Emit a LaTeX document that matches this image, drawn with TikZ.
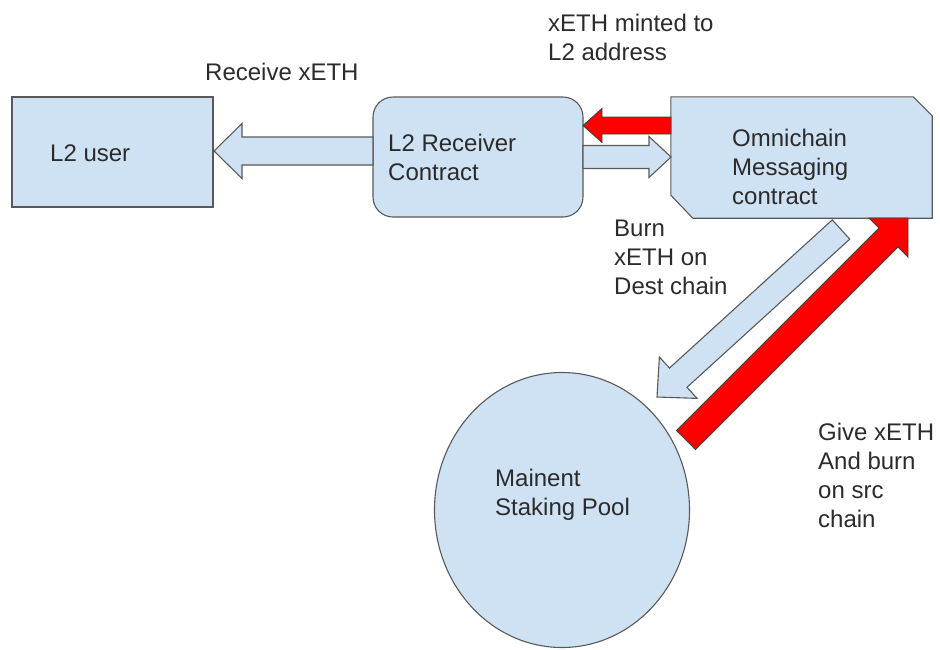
\documentclass[tikz,border=0pt]{standalone}
\usepackage{fontspec}
\setmainfont{Liberation Sans}
\usetikzlibrary{calc,shapes.geometric,backgrounds}

\definecolor{boxblue}{HTML}{CFE2F3}
\definecolor{edgegray}{HTML}{595959}
\definecolor{inkgray}{HTML}{2B2B2B}
\definecolor{flowred}{HTML}{FF0000}

\tikzset{
  boxstyle/.style={draw=edgegray, fill=boxblue, line width=1.1pt, inner sep=0pt},
  bluearrow/.style={draw=edgegray, fill=boxblue, line width=1.1pt, line join=miter},
  redarrow/.style={draw=black!75, fill=flowred, line width=0.9pt, line join=miter},
  label/.style={text=inkgray, align=left, anchor=west, inner sep=0pt,
                font=\fontsize{24}{29}\selectfont},
}

% Block arrow: #1 style, #2 tail, #3 tip, #4 half shaft width,
% #5 half head width, #6 head length
\newcommand\blockarrow[6]{%
  \coordinate (ba-h) at ($(#3)!#6!(#2)$);
  \path[#1] ($(#2)!#4!90:(#3)$) -- ($(ba-h)!#4!90:(#3)$) -- ($(ba-h)!#5!90:(#3)$)
    -- (#3) -- ($(ba-h)!#5!-90:(#3)$) -- ($(ba-h)!#4!-90:(#3)$)
    -- ($(#2)!#4!-90:(#3)$) -- cycle;
}

\begin{document}
\begin{tikzpicture}[x=1pt,y=-1pt]
  \useasboundingbox (0,0) rectangle (940,649);

  % boxes
  \node[boxstyle, minimum width=201pt, minimum height=110pt] (user) at (112.5,152) {};
  \node[boxstyle, rounded corners=20pt, minimum width=210pt, minimum height=120pt] (recv) at (478,157) {};
  \node[inner sep=0pt, minimum width=261pt, minimum height=121pt] (omni) at (801.5,157.5) {};
  \draw[boxstyle] (omni.north west) -- ([xshift=-19pt]omni.north east)
    -- ([yshift=-19pt]omni.north east) -- (omni.south east)
    -- ([xshift=22pt]omni.south west) -- ([yshift=23pt]omni.south west) -- cycle;
  \node[boxstyle, ellipse, minimum width=255pt, minimum height=275pt] (pool) at (562,510) {};

  % texts inside the shapes
  \node[label] (userlbl) at (50,153) {L2 user};
  \node[label] (recvlbl) at (388,157.5) {L2 Receiver\\Contract};
  \node[label] (omnilbl) at (732,166.5) {Omnichain\\Messaging\\contract};
  \node[label] (poollbl) at (495,494.5) {Mainent\\Staking Pool};

  % arrow end points
  \coordinate (a1t) at (373,151);   \coordinate (a1h) at (214,151);
  \coordinate (a2t) at (583,157);   \coordinate (a2h) at (671,157);
  \coordinate (a3t) at (671,125.5); \coordinate (a3h) at (583,125.5);
  \coordinate (a4t) at (841,229.5); \coordinate (a4h) at (657,397);
  \coordinate (a5t) at (686,440);   \coordinate (a5h) at (908,218);

  % block arrows
  \blockarrow{bluearrow}{a1t}{a1h}{14pt}{27.5pt}{28pt}
  \blockarrow{bluearrow}{a2t}{a2h}{11.5pt}{20.5pt}{22pt}
  \blockarrow{redarrow}{a3t}{a3h}{8.5pt}{17pt}{19pt}
  \blockarrow{bluearrow}{a4t}{a4h}{13pt}{28pt}{28.7pt}
  \blockarrow{redarrow}{a5t}{a5h}{13.5pt}{27.6pt}{27.6pt}

  % flow labels
  \node[label] (mintlbl) at (548,37) {xETH minted to\\L2 address};
  \node[label] (recvx) at (205,72) {Receive xETH};
  \node[label] (burnlbl) at (614,257) {Burn\\xETH on\\Dest chain};
  \node[label] (givelbl) at (818,475.5) {Give xETH\\And burn\\on src\\chain};
\end{tikzpicture}
\end{document}
